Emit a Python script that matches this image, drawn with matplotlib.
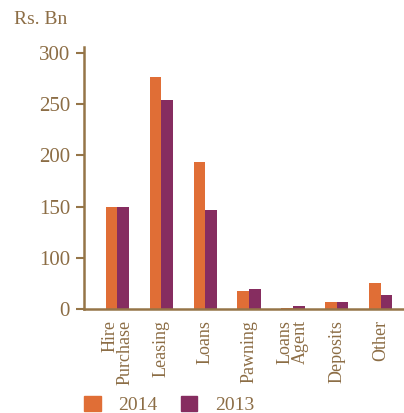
import numpy as np
import matplotlib.pyplot as plt
from matplotlib.patches import Patch

# data
categories = ["Hire\nPurchase", "Leasing", "Loans", "Pawning", "Loans\nAgent", "Deposits", "Other"]
values_2014 = [150, 277, 194, 35, 2, 14, 51]
values_2013 = [150, 254, 147, 39, 6, 14, 27]
yticks = [0, 100, 150, 200, 250, 300]

c2014 = '#e06e36'
c2013 = '#862d60'
txt = '#8c6d45'
axc = '#957548'

plt.rcParams['font.family'] = ['Liberation Serif', 'DejaVu Serif']


# the axis is squeezed below 100 (0 and 100 ticks are one step apart)
def fwd(v):
    v = np.asarray(v, dtype=float)
    return np.where(v <= 100, v / 2.0, v - 50.0)


def inv(d):
    d = np.asarray(d, dtype=float)
    return np.where(d <= 50, d * 2.0, d + 50.0)


fig = plt.figure(figsize=(4.04, 4.13), dpi=100)
ax = fig.add_axes([84 / 404, 1 - 309 / 413, 1 - 84 / 404, (309 - 47) / 413])
ax.set_yscale('function', functions=(fwd, inv))

x = np.arange(len(categories))
w = 0.265
ax.bar(x - w / 2, values_2014, w, color=c2014, label='2014')
ax.bar(x + w / 2, values_2013, w, color=c2013, label='2013')

ax.set_xlim(-0.76, 6.53)
ax.set_ylim(0, 306)
ax.set_yticks(yticks)
ax.set_yticklabels([str(t) for t in yticks], fontsize=15, color=txt)
ax.set_xticks(x)
ax.set_xticklabels(categories, rotation=90, va='top', ha='center',
                   multialignment='right', fontsize=13, color=txt, linespacing=0.85)

for s in ['top', 'right']:
    ax.spines[s].set_visible(False)
ax.spines['left'].set_color(axc)
ax.spines['bottom'].set_color(axc)
ax.spines['left'].set_linewidth(1.8)
ax.spines['bottom'].set_linewidth(1.8)
ax.tick_params(axis='y', colors=axc, length=6, width=1.5, pad=4, labelcolor=txt)
ax.tick_params(axis='x', length=0, pad=8, labelcolor=txt)

fig.text(14 / 404, 1 - 20 / 413, 'Rs. Bn', fontsize=14, color=txt, va='center', ha='left')

handles = [Patch(color=c2014, label='2014'), Patch(color=c2013, label='2013')]
fig.legend(handles=handles, loc='lower left', bbox_to_anchor=(0.165, -0.045), ncol=2,
           frameon=False, fontsize=14, labelcolor=txt, handlelength=0.85, handleheight=0.85,
           columnspacing=1.2, handletextpad=0.9)

fig.savefig('out.png', dpi=100)
